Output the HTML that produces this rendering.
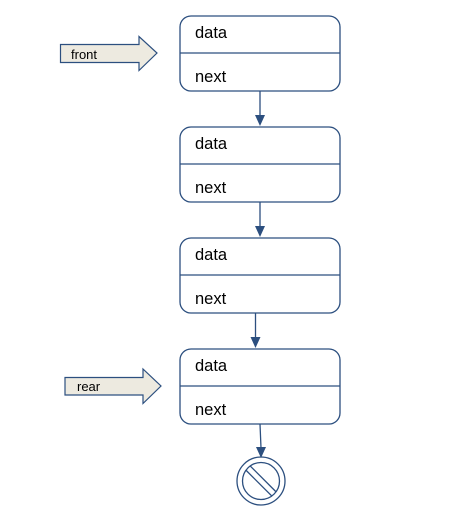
<!DOCTYPE html>
<html><head><style>html,body{margin:0;padding:0;background:#fff;}svg{display:block}</style></head>
<body>
<svg width="451" height="510" xmlns="http://www.w3.org/2000/svg" font-family="Liberation Sans, Arial, sans-serif">
<defs><marker id="a" markerWidth="10" markerHeight="12" refX="5" refY="11" orient="auto" markerUnits="userSpaceOnUse"><path d="M0,0 L10,0 L5,11 Z" fill="#2c4f7f" transform="rotate(0)"/></marker></defs>
<g stroke="#2c4f7f" stroke-width="1.3" fill="#fff">
<rect x="180" y="16" width="160" height="75" rx="11"/><line x1="180" y1="53" x2="340" y2="53"/>
<rect x="180" y="127" width="160" height="75" rx="11"/><line x1="180" y1="164" x2="340" y2="164"/>
<rect x="180" y="238" width="160" height="75" rx="11"/><line x1="180" y1="275" x2="340" y2="275"/>
<rect x="180" y="349" width="160" height="75" rx="11"/><line x1="180" y1="386" x2="340" y2="386"/>
</g>
<g stroke="#2c4f7f" stroke-width="1.3" fill="#2c4f7f">
<line x1="260" y1="91" x2="260" y2="116"/><path d="M255,115 L265,115 L260,126 Z" stroke="none"/>
<line x1="260" y1="202" x2="260" y2="227"/><path d="M255,226 L265,226 L260,237 Z" stroke="none"/>
<line x1="255.5" y1="313" x2="255.5" y2="338"/><path d="M250.5,337 L260.5,337 L255.5,348 Z" stroke="none"/>
<line x1="260" y1="424" x2="261" y2="448"/><path d="M256,447 L266,447 L261,458 Z" stroke="none"/>
</g>
<g fill="#000" font-size="16.5">
<text x="195" y="38">data</text><text x="195" y="82">next</text>
<text x="195" y="149">data</text><text x="195" y="193">next</text>
<text x="195" y="260">data</text><text x="195" y="304">next</text>
<text x="195" y="371">data</text><text x="195" y="415">next</text>
</g>
<path d="M60.5,44.5 L139,44.5 L139,36.5 L157,53 L139,70.5 L139,62.5 L60.5,62.5 Z" fill="#edeae0" stroke="#2c4f7f" stroke-width="1.2"/>
<text x="71" y="59" font-size="13" fill="#000">front</text>
<path d="M65,377.5 L143,377.5 L143,369 L161,386 L143,403.5 L143,395 L65,395 Z" fill="#edeae0" stroke="#2c4f7f" stroke-width="1.2"/>
<text x="77" y="391" font-size="13" fill="#000">rear</text>
<g stroke="#2c4f7f" stroke-width="1.3" fill="none">
<circle cx="261" cy="481" r="24"/>
<circle cx="261" cy="481" r="18.5"/>
</g>
<g transform="rotate(45 261 481)" stroke="#2c4f7f" stroke-width="1.3">
<line x1="243" y1="478" x2="279" y2="478"/>
<line x1="243" y1="484" x2="279" y2="484"/>
</g>
</svg>
</body></html>
